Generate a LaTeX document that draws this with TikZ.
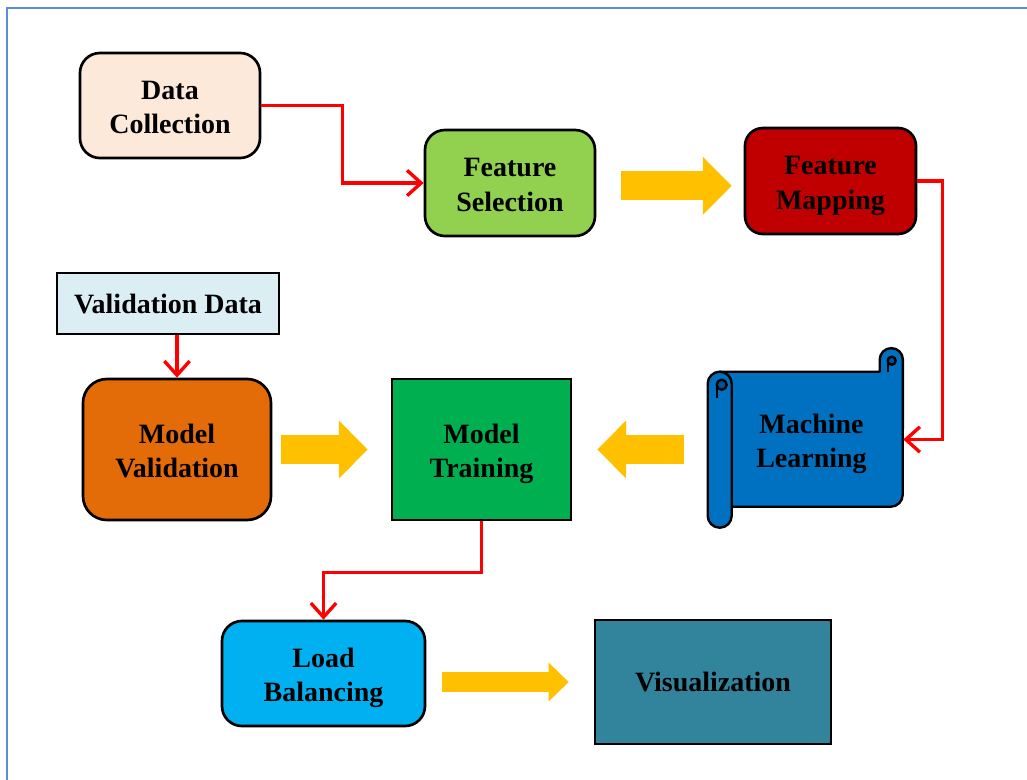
\documentclass[tikz,border=0pt]{standalone}
\usepackage{fontspec}
\setmainfont{Liberation Serif}
\usepackage{tikz}
\usetikzlibrary{arrows.meta, positioning, calc, backgrounds}
\definecolor{frameblue}{RGB}{91,142,214}
\definecolor{collpeach}{RGB}{253,233,217}
\definecolor{selgreen}{RGB}{146,208,80}
\definecolor{mapred}{RGB}{192,0,0}
\definecolor{valcyan}{RGB}{218,238,243}
\definecolor{valorange}{RGB}{227,108,9}
\definecolor{traingreen}{RGB}{0,176,80}
\definecolor{mlblue}{RGB}{0,112,192}
\definecolor{mldark}{RGB}{0,84,150}
\definecolor{lbcyan}{RGB}{0,176,240}
\definecolor{visteal}{RGB}{49,132,155}
\definecolor{flowyellow}{RGB}{255,192,0}
\definecolor{linkred}{RGB}{255,0,0}
% two centred lines; first baseline a little above the node centre
\newcommand{\boxlines}[2]{\raisebox{4.6pt}[0pt][0pt]{%
  \begin{tabular}[t]{@{}c@{}}#1\\#2\end{tabular}}}
\tikzset{
  block/.style={rectangle, draw=black, line width=1.9pt, inner sep=0pt},
  roundblock/.style={block, rounded corners=0.5cm},
  scrollpart/.style={fill=mlblue, draw=black, line width=1.7pt, line join=round},
  redarrow/.style={-{Straight Barb[length=10pt, width=18pt]}, line width=2.4pt,
    color=linkred},
  fatarrow/.style={-{Triangle[length=0.72cm, width=1.45cm, line width=0pt]},
    line width=0.72cm, color=flowyellow},
  smallfatarrow/.style={-{Triangle[length=0.5cm, width=0.975cm, line width=0pt]},
    line width=0.5cm, color=flowyellow},
}

\begin{document}
\begin{tikzpicture}[x=0.025cm, y=-0.025cm,
    font=\fontsize{19.9}{24.6}\selectfont\bfseries]
  \useasboundingbox (0,0) rectangle (1027,779);
  \draw[frameblue, line width=1.3pt] (7,800) -- (7,8) -- (1040,8);

  % top row
  \node[roundblock, fill=collpeach, minimum width=4.5cm, minimum height=2.625cm]
    (dcoll) at (170,105.5) {\boxlines{Data}{Collection}};
  \node[roundblock, fill=selgreen, minimum width=4.25cm, minimum height=2.65cm]
    (fsel) at (510,183) {\boxlines{Feature}{Selection}};
  \node[roundblock, fill=mapred, rounded corners=0.45cm, minimum width=4.275cm,
    minimum height=2.65cm] (fmap) at (830.5,181) {\boxlines{Feature}{Mapping}};

  % middle row
  \node[block, fill=valcyan, line width=1.3pt, minimum width=5.55cm,
    minimum height=1.525cm] (vdata) at (168,303.5) {Validation Data};
  \node[roundblock, fill=valorange, rounded corners=0.6cm, minimum width=4.7cm,
    minimum height=3.525cm] (mval) at (177,449.5) {\boxlines{Model}{Validation}};
  \node[block, fill=traingreen, minimum width=4.475cm, minimum height=3.525cm]
    (mtrain) at (481.5,449.5) {\boxlines{Model}{Training}};
  \node[inner sep=0pt, minimum width=4.575cm, minimum height=3.375cm]
    (mlearn) at (811.5,439.5) {\boxlines{Machine}{Learning}};

  % scroll behind the text
  \begin{scope}[on background layer, shift={(mlearn.north west)}]
    \filldraw[scrollpart] (0,0) -- (160,0) -- (160,-12)
      arc[start angle=180, end angle=0, radius=0.29cm] -- (183,123)
      arc[start angle=0, end angle=-90, radius=0.3cm] -- (0,135) -- cycle;
    \filldraw[scrollpart, fill=mldark] (172,-11) circle (0.1cm);
    \draw[line width=1.7pt] (168,-11) -- (168,0);
    \filldraw[scrollpart] (-12,12) arc[start angle=180, end angle=0, radius=0.3cm]
      -- (12,144) arc[start angle=0, end angle=-180, radius=0.3cm] -- cycle;
    \filldraw[scrollpart, fill=mldark] (2,13) circle (0.125cm);
    \draw[line width=1.7pt] (-3,13) -- (-3,26);
  \end{scope}

  % bottom row
  \node[roundblock, fill=lbcyan, minimum width=5.075cm, minimum height=2.625cm]
    (lbal) at (323.5,673.5) {\boxlines{Load}{Balancing}};
  \node[block, fill=visteal, minimum width=5.9cm, minimum height=3.1cm]
    (vis) at (713,682) {Visualization};

  % red links
  \draw[redarrow] (dcoll.east) -- ++(81,0) |- (fsel.west);
  \draw[redarrow] (fmap.east) -- ++(25,0) |- (mlearn.east);
  \draw[redarrow] (mval.north |- vdata.south) -- (mval.north);
  \draw[redarrow] (mtrain.south) -- ++(0,51) -| (lbal.north);

  % yellow flow arrows
  \draw[fatarrow, shorten <=0.625cm, shorten >=0.3cm]
    ([yshift=-2pt]fsel.east) -- ([yshift=-2pt]fsel.east -| fmap.west);
  \draw[fatarrow, shorten <=0.225cm, shorten >=0.575cm] (mval.east) -- (mtrain.west);
  \draw[fatarrow, shorten <=0.9cm, shorten >=0.625cm]
    (mlearn.west |- mtrain.east) -- (mtrain.east);
  \draw[smallfatarrow, shorten <=0.4cm, shorten >=0.625cm]
    (lbal.east |- vis.west) -- (vis.west);
\end{tikzpicture}
\end{document}
